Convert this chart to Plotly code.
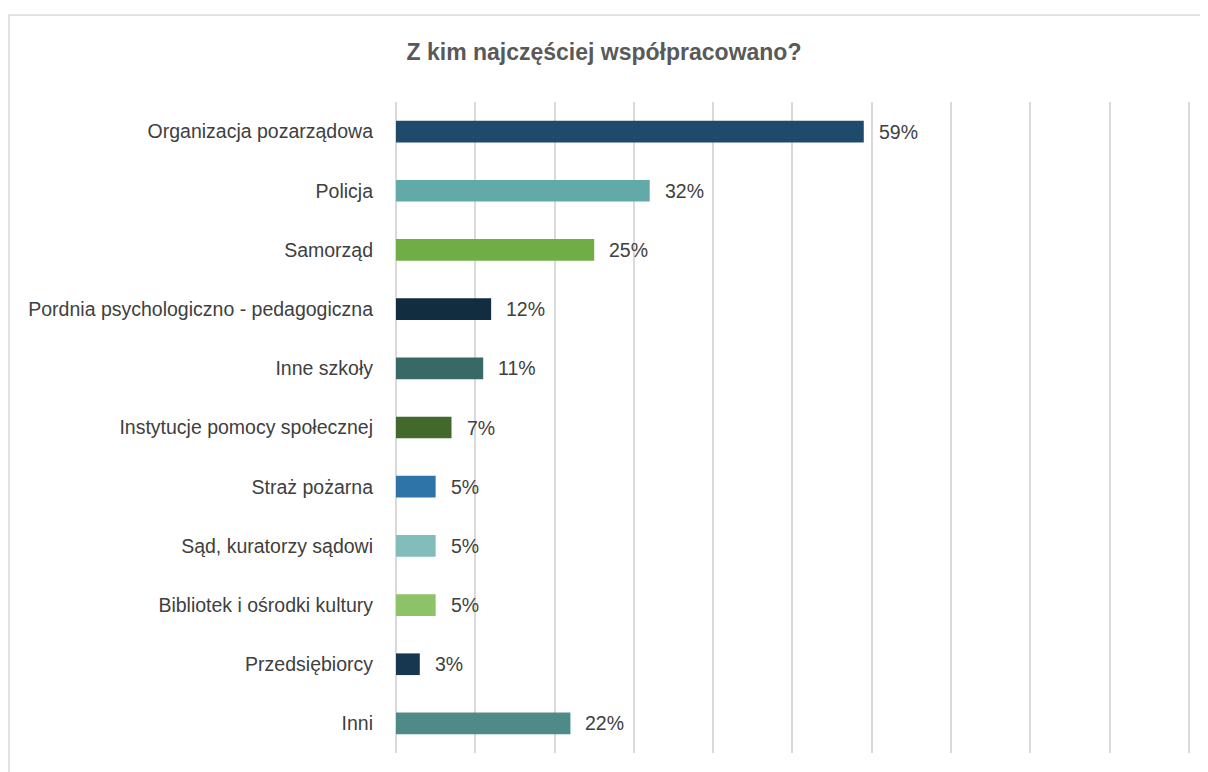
import plotly.graph_objects as go

categories = [
    "Organizacja pozarządowa",
    "Policja",
    "Samorząd",
    "Pordnia psychologiczno - pedagogiczna",
    "Inne szkoły",
    "Instytucje pomocy społecznej",
    "Straż pożarna",
    "Sąd, kuratorzy sądowi",
    "Bibliotek i ośrodki kultury",
    "Przedsiębiorcy",
    "Inni",
]
values = [59, 32, 25, 12, 11, 7, 5, 5, 5, 3, 22]
colors = [
    "#1F4A6B", "#62AAA7", "#70AD47", "#132D40", "#396966", "#43682B",
    "#2E74A8", "#82BDB9", "#8EC268", "#173650", "#4E8B88",
]
title_text = "Z kim najczęściej współpracowano?"

FONT = "Liberation Sans Narrow, Arial Narrow, Liberation Sans, Arial, sans-serif"

W, H = 1200, 764
L, T, PW, PH = 388, 94, 796, 651

fig = go.Figure()
fig.add_trace(go.Bar(
    x=values,
    y=categories,
    orientation="h",
    marker=dict(color=colors, line=dict(width=0)),
    width=0.366,
    hoverinfo="skip",
))

for v, c in zip(values, categories):
    fig.add_annotation(
        x=v, y=c, xref="x", yref="y",
        text=f"{v}%", showarrow=False,
        xanchor="left", yanchor="middle", xshift=13,
        font=dict(family=FONT, size=19.5, color="#404040"),
    )

fig.add_shape(
    type="rect", xref="paper", yref="paper",
    x0=(1 - L) / PW, x1=(W + 20 - L) / PW,
    y0=-0.05, y1=(T + PH - 7) / PH,
    line=dict(color="#D9D9D9", width=1.5), fillcolor="rgba(0,0,0,0)",
    layer="below",
)

fig.update_layout(
    width=W, height=H,
    margin=dict(l=L, r=W - L - PW, t=T, b=H - T - PH, autoexpand=False),
    paper_bgcolor="white", plot_bgcolor="white",
    showlegend=False,
    title=dict(
        text=f"<b>{title_text}</b>",
        x=596 / W, xanchor="center", xref="container",
        y=1 - 44 / H, yanchor="middle", yref="container",
        font=dict(family=FONT, size=23, color="#595959"),
        automargin=False,
    ),
    xaxis=dict(
        range=[0, 100.4], dtick=10, tick0=0,
        showgrid=True, gridcolor="#D9D9D9", gridwidth=1.5,
        zeroline=True, zerolinecolor="#D9D9D9", zerolinewidth=1.5,
        showticklabels=False, ticks="", showline=False, fixedrange=True,
        automargin=False,
    ),
    yaxis=dict(
        categoryorder="array", categoryarray=categories[::-1],
        showgrid=False, zeroline=False, showline=False, ticks="",
        ticklabelstandoff=22, automargin=False,
        tickfont=dict(family=FONT, size=19.5, color="#404040"),
        fixedrange=True,
    ),
    bargap=0.634,
)

fig.write_html("out.html")
